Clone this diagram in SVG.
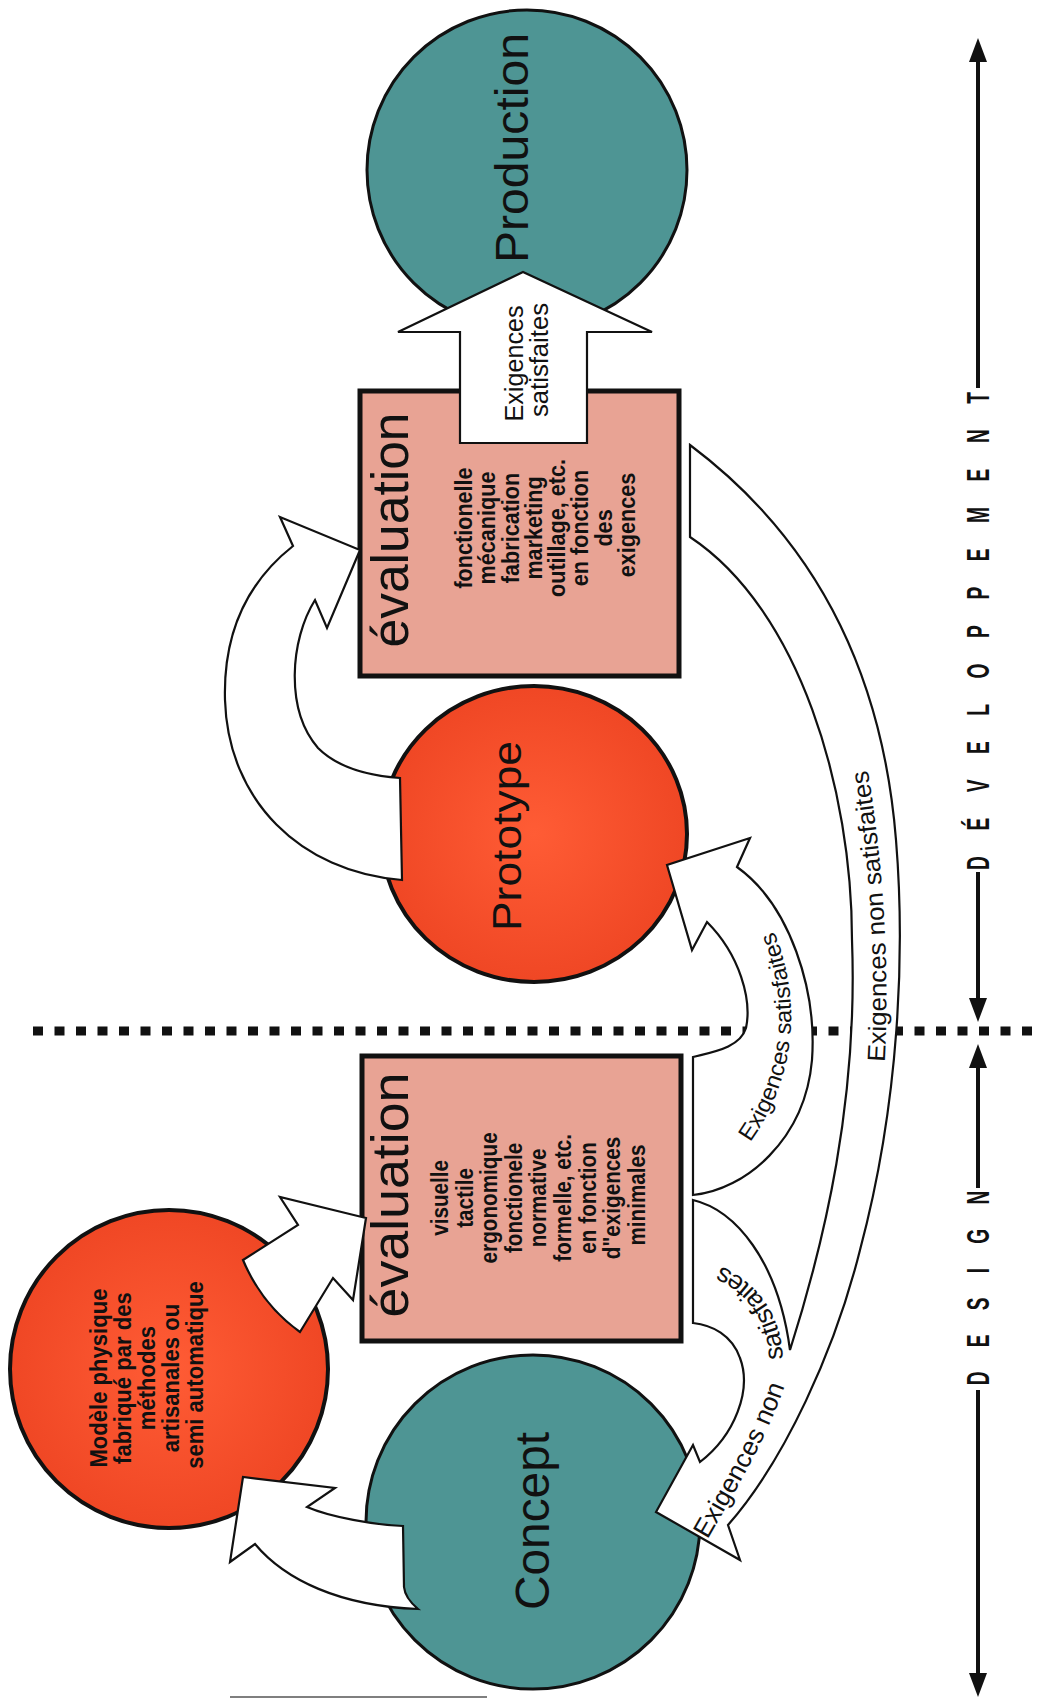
<svg xmlns="http://www.w3.org/2000/svg" width="1037" height="1699" viewBox="0 0 1037 1699">
<style>
.teal{fill:#4E9594;stroke:#111;stroke-width:3}
.red{fill:url(#redGrad);stroke:#111;stroke-width:4}
.box{fill:#E8A394;stroke:#111;stroke-width:5}
.arrow{fill:#fff;stroke:#111;stroke-width:2.2;stroke-linejoin:miter}
text{font-family:"Liberation Sans",Arial,Helvetica,sans-serif;fill:#111}
.sub{font-weight:bold}
.axis{stroke:#111;stroke-width:4;fill:none}
.axlbl{font-weight:bold}
</style>
<defs>
<radialGradient id="redGrad" cx="50%" cy="50%" r="55%">
<stop offset="0" stop-color="#FF5C35"/>
<stop offset="1" stop-color="#EE4523"/>
</radialGradient>
<marker id="axHead" viewBox="0 0 24 18" refX="18" refY="9" markerWidth="24" markerHeight="18" markerUnits="userSpaceOnUse" orient="auto"><path d="M0,0 L24,9 L0,18 Z" fill="#111"/></marker>
<path id="tpSat" d="M 732,1165 C 795,1095 812,1000 762,905"/>
<path id="tpLong" d="M 884,1072 C 890,980 885,870 866,760"/>
<path id="tpNonA" d="M 706,1542 C 735,1492 768,1437 786,1382"/>
<path id="tpNonB" d="M 783,1362 C 782,1318 762,1282 712,1262"/>
</defs>
<rect width="1037" height="1699" fill="#fff"/>

<g id="phase-axis">
<line x1="33" y1="1031" x2="1037" y2="1031" stroke="#111" stroke-width="9" stroke-dasharray="10 11.5"/>
<path class="axis" d="M978,388 L978,44" marker-end="url(#axHead)"/>
<path class="axis" d="M978,872 L978,1016" marker-end="url(#axHead)"/>
<path class="axis" d="M978,1188 L978,1050" marker-end="url(#axHead)"/>
<path class="axis" d="M978,1390 L978,1691" marker-end="url(#axHead)"/>
<text class="axlbl" font-size="31" text-anchor="middle" textLength="771" lengthAdjust="spacing" transform="translate(989,631) rotate(-90) scale(0.62,1)">DÉVELOPPEMENT</text>
<text class="axlbl" font-size="31" text-anchor="middle" textLength="314" lengthAdjust="spacing" transform="translate(989,1288) rotate(-90) scale(0.62,1)">DESIGN</text>
<line x1="230" y1="1697" x2="487" y2="1697" stroke="#555" stroke-width="1.5"/>
</g>

<g id="node-production">
<circle class="teal" cx="527" cy="170" r="160"/>
<text font-size="46" text-anchor="middle" textLength="230" lengthAdjust="spacingAndGlyphs" transform="translate(528,148) rotate(-90)">Production</text>
</g>

<g id="node-evaluation-dev">
<rect class="box" x="360" y="391" width="319" height="285"/>
<text font-size="52" text-anchor="middle" textLength="235" lengthAdjust="spacingAndGlyphs" transform="translate(408,530) rotate(-90)">évaluation</text>
<text class="sub" font-size="24" text-anchor="middle" transform="rotate(-90) scale(0.9,1)">
<tspan x="-583.3" y="472">fonctionelle</tspan>
<tspan x="-583.3" y="495.3">mécanique</tspan>
<tspan x="-583.3" y="518.6">fabrication</tspan>
<tspan x="-583.3" y="541.9">marketing</tspan>
<tspan x="-583.3" y="565.2">outillage, etc.</tspan>
<tspan x="-583.3" y="588.5">en fonction</tspan>
<tspan x="-583.3" y="611.8">des</tspan>
<tspan x="-583.3" y="635.1">exigences</tspan>
</text>
</g>

<g id="node-prototype">
<ellipse class="red" cx="534" cy="834" rx="153" ry="148"/>
<text font-size="40" text-anchor="middle" textLength="190" lengthAdjust="spacingAndGlyphs" transform="translate(521,836) rotate(-90)">Prototype</text>
</g>

<g id="node-evaluation-design">
<rect class="box" x="362" y="1056" width="319" height="285"/>
<text font-size="52" text-anchor="middle" textLength="245" lengthAdjust="spacingAndGlyphs" transform="translate(408,1195) rotate(-90)">évaluation</text>
<text class="sub" font-size="23" text-anchor="middle" transform="rotate(-90) scale(0.9,1)">
<tspan x="-1327.8" y="448">visuelle</tspan>
<tspan x="-1327.8" y="472.6">tactile</tspan>
<tspan x="-1327.8" y="497.2">ergonomique</tspan>
<tspan x="-1327.8" y="521.8">fonctionele</tspan>
<tspan x="-1327.8" y="546.4">normative</tspan>
<tspan x="-1327.8" y="571">formelle, etc.</tspan>
<tspan x="-1327.8" y="595.6">en fonction</tspan>
<tspan x="-1327.8" y="620.2">d&quot;exigences</tspan>
<tspan x="-1327.8" y="644.8">minimales</tspan>
</text>
</g>

<g id="node-modele">
<circle class="red" cx="169" cy="1369" r="159"/>
<text class="sub" font-size="24" text-anchor="middle" transform="rotate(-90) scale(0.92,1)">
<tspan x="-1494.6" y="107">Modèle physique</tspan>
<tspan x="-1494.6" y="131">fabriqué par des</tspan>
<tspan x="-1494.6" y="155">méthodes</tspan>
<tspan x="-1494.6" y="179">artisanales ou</tspan>
<tspan x="-1494.6" y="203">semi automatique</tspan>
</text>
</g>

<g id="node-concept">
<circle class="teal" cx="533" cy="1522" r="167"/>
<text font-size="48" text-anchor="middle" textLength="178" lengthAdjust="spacingAndGlyphs" transform="translate(549,1521) rotate(-90)">Concept</text>
</g>

<g id="connectors">
<!-- evaluation (dev) to production -->
<path class="arrow" d="M460,443 L460,332 L398,332 L523,272 L652,332 L587,332 L587,443 Z"/>
<text font-size="25" text-anchor="middle" transform="rotate(-90)">
<tspan x="-360" y="523" textLength="116" lengthAdjust="spacingAndGlyphs">Exigences</tspan>
<tspan x="-360" y="548" textLength="114" lengthAdjust="spacingAndGlyphs">satisfaites</tspan>
</text>

<!-- prototype to evaluation (dev) -->
<path class="arrow" d="M402,880 C300,872 228,800 225,700 C223,630 250,580 293,546 L280,517 L360,550 L327,628 L315,600 C290,640 285,710 318,748 C340,770 372,776 400,778 Z"/>

<!-- evaluation (design) to prototype -->
<path class="arrow" d="M693,1057 L693,1195 C745,1190 805,1140 812,1060 C817,990 790,905 737,867 L750,838 L667,865 L692,950 L707,922 C740,955 752,1000 746,1028 C740,1048 712,1052 693,1057 Z"/>
<text font-size="23"><textPath href="#tpSat" startOffset="50%" text-anchor="middle" textLength="222" lengthAdjust="spacingAndGlyphs">Exigences satisfaites</textPath></text>

<!-- evaluations to concept (exigences non satisfaites) -->
<path class="arrow" d="M690,445 C790,520 880,640 896,840 C905,950 900,1100 860,1250 C835,1350 785,1460 728,1525 L740,1560 L656,1512 L693,1445 L700,1462 C735,1435 752,1390 740,1358 C732,1335 712,1325 693,1323 L693,1200 C735,1210 778,1260 790,1350 C825,1240 858,1100 852,940 C852,790 800,610 690,537 Z"/>
<text font-size="25"><textPath href="#tpLong" startOffset="50%" text-anchor="middle" textLength="293" lengthAdjust="spacingAndGlyphs">Exigences non satisfaites</textPath></text>
<text font-size="26"><textPath href="#tpNonA" startOffset="3" textLength="172" lengthAdjust="spacingAndGlyphs">Exigences non</textPath></text>
<text font-size="26"><textPath href="#tpNonB" startOffset="3" textLength="118" lengthAdjust="spacingAndGlyphs">satisfaites</textPath></text>

<!-- concept to modele -->
<path class="arrow" d="M403,1526 C375,1525 330,1517 307,1507 L335,1488 L243,1477 L230,1562 L255,1544 C285,1580 340,1606 418,1609 Q405,1598 404,1587 Z"/>

<!-- modele to evaluation (design) -->
<path class="arrow" d="M243,1260 L298,1225 L280,1197 L366,1218 L353,1300 L333,1278 L300,1332 Q262,1305 243,1260 Z"/>
</g>
</svg>
